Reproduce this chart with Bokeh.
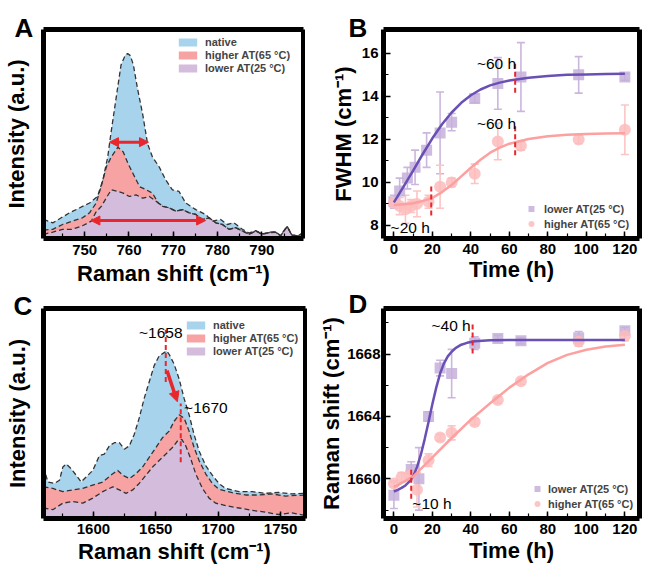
from bokeh.plotting import figure
from bokeh.layouts import row, column
from bokeh.models import (ColumnDataSource, Legend, LegendItem, Arrow, NormalHead,
                          Whisker, TeeHead, SingleIntervalTicker, FixedTicker, Range1d)
from bokeh.embed import file_html
from bokeh.resources import INLINE
from bokeh.core.properties import value

FONT = "Liberation Sans"

# ---------------- Panel A : Raman spectra 740-800 cm-1 ----------------
a_native_x = [740.7, 742.8, 744.7, 746.6, 748.8, 751.1, 752.9, 754.1, 755.2, 755.9, 757.1, 758.2,
              759.2, 759.7, 760.3, 761.0, 761.9, 763.1, 764.2, 765.3, 766.8, 768.3, 769.8, 771.3,
              772.8, 775.1, 777.3, 778.8, 780.7, 782.2, 783.7, 785.6, 787.1, 788.6, 790.1, 791.6,
              793.1, 794.2, 795.7, 796.8, 798.3, 799.4]
a_native_y = [9.1, 7.5, 9.9, 12.3, 14.6, 17.0, 20.1, 28.0, 39.0, 50.0, 67.3, 83.0,
              87.9, 88.5, 87.5, 83.0, 72.0, 59.4, 45.3, 39.0, 34.3, 28.0, 23.3, 22.5,
              17.0, 13.8, 11.5, 8.3, 9.1, 6.7, 7.5, 4.4, 2.6, 3.8, 2.2, 3.0,
              3.2, 1.4, 5.9, 1.7, 1.4, 3.0]
a_high_x = [740.7, 742.8, 745.0, 747.2, 749.5, 751.1, 752.6, 753.7, 754.9, 756.0, 757.5, 758.7,
            759.8, 760.9, 762.4, 763.9, 765.3, 766.6, 767.6, 769.1, 770.6, 772.1, 773.6, 775.1,
            776.6, 778.1, 779.6, 781.1, 782.6, 784.1, 785.6, 787.1, 788.6, 790.1, 791.6, 793.1,
            794.2, 795.7, 796.8, 798.3, 799.4]
a_high_y = [4.0, 4.4, 6.7, 8.3, 9.9, 12.3, 17.0, 24.8, 34.3, 39.0, 43.7, 41.4,
            35.8, 31.1, 24.8, 23.3, 21.7, 17.0, 15.6, 14.6, 13.1, 13.8, 12.3, 11.5,
            9.1, 9.9, 7.5, 6.7, 4.4, 5.2, 3.6, 2.0, 3.6, 2.0, 2.8, 3.0,
            1.2, 5.7, 1.5, 1.2, 2.8]
a_low_x = [740.7, 742.8, 745.0, 747.2, 749.5, 751.5, 752.5, 753.8, 754.9, 756.0, 757.5, 758.7,
           760.1, 761.6, 763.1, 764.6, 766.1, 767.6, 769.1, 770.6, 772.1, 773.6, 775.1, 776.6,
           778.1, 779.6, 781.1, 782.6, 784.1, 785.6, 787.1, 788.6, 790.1, 791.6, 793.1, 794.2,
           795.7, 796.8, 798.3, 799.4]
a_low_y = [2.0, 3.0, 4.4, 4.4, 6.1, 8.3, 12.5, 15.5, 19.5, 23.3, 22.5, 21.7,
           20.1, 20.9, 19.3, 20.1, 17.8, 15.4, 14.6, 13.1, 13.8, 12.3, 11.5, 9.1,
           9.9, 7.5, 6.7, 4.4, 5.2, 3.6, 2.0, 3.6, 2.0, 2.8, 3.0, 1.2,
           5.7, 1.5, 1.2, 2.8]
# FWHM double arrows: x_start, x_end, y
a_arrow_x0 = [755.6, 751.4]
a_arrow_x1 = [764.4, 777.3]
a_arrow_y = [46.1, 8.6]

# ---------------- Panel C : Raman spectra amide I ----------------
c_native_x = [1560, 1563.5, 1568.8, 1572.8, 1575.5, 1578.2, 1582.2, 1586.2, 1590.2, 1594.2, 1599.5,
              1604.8, 1608.8, 1612.8, 1616.8, 1620.8, 1624.8, 1628.8, 1632.7, 1636.7, 1640.7,
              1644.7, 1648.7, 1652.7, 1656.7, 1658.7, 1660.7, 1664.7, 1668.7, 1672.7, 1676.7,
              1680.7, 1684.7, 1690.0, 1695.3, 1700.6, 1706.0, 1711.3, 1716.6, 1727.2, 1737.9,
              1748.6, 1759.2, 1769.9]
c_native_y = [24.5, 17.4, 16.7, 18.2, 24.5, 26.0, 23.7, 20.6, 17.4, 19.8, 22.9,
              29.9, 30.7, 34.6, 36.1, 36.1, 33.0, 34.6, 40.0, 47.8, 57.2,
              65.0, 72.8, 77.4, 79.0, 79.8, 78.2, 73.5, 66.5, 57.2, 49.4,
              40.0, 32.2, 25.2, 20.6, 16.7, 14.3, 13.6, 12.8, 12.8, 12.0,
              12.4, 11.7, 12.0]
c_high_x = [1560, 1567.5, 1575.5, 1583.5, 1591.5, 1599.5, 1607.5, 1615.5, 1619.5, 1623.5, 1628.8,
            1634.1, 1639.4, 1644.7, 1650.1, 1655.4, 1660.7, 1664.7, 1668.7, 1672.7, 1676.7,
            1680.7, 1684.7, 1690.0, 1695.3, 1700.6, 1711.3, 1721.9, 1732.6, 1743.2, 1753.9, 1769.9]
c_high_y = [15.1, 14.3, 12.8, 13.6, 14.3, 15.9, 17.4, 21.3, 22.9, 20.6, 19.0,
            21.3, 24.5, 29.1, 33.8, 38.5, 41.6, 46.3, 49.4, 47.8, 41.6,
            33.8, 27.6, 21.3, 16.7, 13.9, 12.3, 11.2, 11.2, 11.7, 10.7, 11.2]
c_low_x = [1560, 1567.5, 1575.5, 1583.5, 1591.5, 1599.5, 1607.5, 1615.5, 1620.8, 1626.2, 1631.5,
           1636.7, 1642.1, 1647.4, 1652.7, 1658.1, 1663.4, 1667.4, 1670.8, 1674.0, 1678.0,
           1682.0, 1687.4, 1692.7, 1698.0, 1706.0, 1716.6, 1727.2, 1737.9, 1748.6, 1759.2, 1769.9]
c_low_y = [5.0, 4.2, 7.3, 8.1, 7.3, 9.7, 12.8, 15.1, 13.6, 12.0, 13.6,
           16.7, 20.6, 24.5, 27.6, 30.7, 33.8, 36.9, 37.7, 34.6, 28.4,
           21.3, 14.3, 9.7, 7.3, 6.1, 5.0, 3.9, 3.0, 1.9, 2.7, 1.4]
c_peak_x = [1658, 1670]
c_peak_y0 = [65.0, 26.8]
c_peak_y1 = [89.9, 54.8]
c_shift_arrow = [1659.0, 70.4, 1667.3, 55.6]
c_note_text = ["~1658", "~1670"]
c_note_x = [1654.0, 1672.7]
c_note_y = [88.6, 52.8]
c_note_align = ["center", "left"]

# ---------------- Panel B : FWHM vs time ----------------
b_low_t = [0, 3, 7, 11, 17, 24, 30, 42, 54, 66, 96, 120]
b_low_f = [9.1, 9.6, 10.2, 10.7, 11.5, 12.3, 12.8, 13.9, 14.6, 14.9, 15.0, 14.9]
b_low_e = [0.3, 0.6, 0.5, 0.8, 0.8, 1.9, 0.4, 0.2, 1.2, 1.6, 0.85, 0.15]
b_high_t = [0, 3, 6, 9, 12, 18, 24, 30, 42, 54, 66, 96, 120]
b_high_f = [9.05, 8.9, 8.75, 8.9, 9.0, 9.1, 9.8, 10.0, 10.4, 11.9, 11.7, 12.0, 12.45]
b_high_e = [0.2, 0.4, 0.65, 0.3, 0.6, 0.3, 1.0, 0.2, 0.45, 0.85, 0.2, 0.2, 1.15]
b_fit_t = [0, 5, 10, 15, 20, 25, 30, 35, 40, 45, 50, 55, 60, 70, 80, 90, 100, 110, 120]
b_fit_low = [9.07, 9.80, 10.55, 11.32, 12.05, 12.70, 13.25, 13.70, 14.05, 14.32, 14.51, 14.64,
             14.74, 14.87, 14.95, 15.0, 15.02, 15.04, 15.05]
b_fit_high = [8.95, 8.98, 9.03, 9.13, 9.28, 9.55, 9.88, 10.28, 10.68, 11.05, 11.38, 11.62,
              11.80, 12.02, 12.15, 12.21, 12.25, 12.27, 12.28]
b_mark_t = [63, 63, 19.4]
b_mark_y0 = [14.17, 11.26, 8.46]
b_mark_y1 = [15.54, 12.63, 9.81]
b_note_text = ["~60 h", "~60 h", "~20 h"]
b_note_t = [63.5, 63.5, -1.7]
b_note_y = [15.54, 12.74, 7.89]
b_note_align = ["right", "right", "left"]

# ---------------- Panel D : Raman shift vs time ----------------
d_low_t = [0, 9, 13, 18, 24, 30, 42, 54, 66, 96, 120]
d_low_s = [1658.95, 1660.6, 1660.0, 1664.0, 1667.1, 1666.75, 1668.7, 1669.0, 1668.85, 1669.05, 1669.5]
d_low_e = [0.85, 0.5, 2.0, 0.3, 0.5, 1.55, 0.4, 0.2, 0.2, 0.4, 0.2]
d_high_t = [0, 4, 8, 12, 18, 24, 30, 42, 54, 66, 96, 120]
d_high_s = [1659.7, 1660.1, 1660.2, 1659.3, 1661.2, 1662.65, 1662.95, 1663.65, 1665.05, 1666.25,
            1668.8, 1669.15]
d_high_e = [0.2, 0.3, 0.3, 1.1, 0.4, 0.2, 0.45, 0.2, 0.2, 0.2, 0.3, 0.3]
d_fit_low_t = [0, 2, 4, 6, 8, 10, 12, 14, 16, 18, 20, 22, 24, 26, 28, 30, 32, 35, 38, 42, 50, 60,
               80, 100, 120]
d_fit_low = [1659.19, 1659.30, 1659.42, 1659.58, 1659.82, 1660.15, 1660.75, 1661.55, 1662.55,
             1663.65, 1664.8, 1665.85, 1666.75, 1667.4, 1667.85, 1668.15, 1668.38, 1668.6,
             1668.72, 1668.82, 1668.88, 1668.9, 1668.9, 1668.9, 1668.9]
d_fit_high_t = [0, 10, 20, 30, 40, 50, 60, 70, 80, 90, 100, 110, 120]
d_fit_high = [1659.47, 1660.15, 1661.38, 1662.62, 1663.8, 1664.85, 1665.85, 1666.7, 1667.43,
              1667.95, 1668.28, 1668.48, 1668.6]
d_mark_t = [9.0, 40.9]
d_mark_y0 = [1658.73, 1668.04]
d_mark_y1 = [1660.74, 1669.95]
d_note_text = ["~40 h", "~10 h"]
d_note_t = [39.9, 9.6]
d_note_y = [1669.84, 1658.41]
d_note_align = ["right", "left"]

legend_spectra = ["native", "higher AT(65 °C)", "lower AT(25 °C)"]
legend_time = ["lower AT(25 °C)", "higher AT(65 °C)"]

C_BLUE = "#a8d3ec"
C_PINK = "#f8a3a3"
C_PURP = "#d4bcdc"
C_DASH = "#333333"
C_RED = "#e8262b"
C_SQ = "#c6b0da"
C_CI = "#fdbcbc"
C_LINE_P = "#6a50b4"
C_LINE_R = "#fca0a0"


def make_fig(w, h, xr, yr, mbl, mbr, mbt, mbb):
    p = figure(width=w, height=h, x_range=Range1d(xr[0], xr[1]), y_range=Range1d(yr[0], yr[1]),
               output_backend="svg", toolbar_location=None, tools="")
    p.min_border_left = mbl
    p.min_border_right = mbr
    p.min_border_top = mbt
    p.min_border_bottom = mbb
    p.outline_line_color = None
    p.xgrid.visible = False
    p.ygrid.visible = False
    p.background_fill_color = "white"
    p.border_fill_color = "white"
    for ax in (p.xaxis[0], p.yaxis[0]):
        ax.axis_line_color = None
        ax.major_tick_in = 7
        ax.major_tick_out = 0
        ax.minor_tick_in = 5
        ax.minor_tick_out = 0
        ax.major_tick_line_width = 1.5
        ax.minor_tick_line_width = 1.2
        ax.major_tick_line_color = "black"
        ax.minor_tick_line_color = "black"
        ax.major_label_text_font = FONT
        ax.major_label_text_font_style = "bold"
        ax.major_label_text_font_size = "15px"
        ax.major_label_text_color = "black"
        ax.axis_label_text_font = FONT
        ax.axis_label_text_font_style = "bold"
        ax.axis_label_text_font_size = "22px"
        ax.axis_label_text_color = "black"
    return p


def frame_border(p):
    # thick black frame along the four range limits (drawn last, on top)
    x0, x1 = p.x_range.start, p.x_range.end
    y0, y1 = p.y_range.start, p.y_range.end
    p.segment(x0=[x0, x0, x0, x1], y0=[y0, y1, y0, y0], x1=[x1, x1, x0, x1], y1=[y0, y1, y1, y1],
              line_color="black", line_width=5, level="overlay")


def panel_letter(p, letter, offset, standoff):
    t = p.title
    t.text = letter
    t.align = "left"
    t.vertical_align = "bottom"
    t.offset = offset
    t.standoff = standoff
    t.text_font = FONT
    t.text_font_size = "26px"
    t.text_font_style = "bold"
    t.text_color = "black"


def spectra_panel(p, xs, ys, colors, labels, vx, vy):
    rs = []
    for x, y, c in zip(xs, ys, colors):
        rs.append(p.varea(x=x, y1=[0] * len(x), y2=y, fill_color=c, fill_alpha=1.0))
    for x, y in zip(xs, ys):
        p.line(x=x, y=y, line_color=C_DASH, line_width=1.3, line_dash="5 3")
    items = [LegendItem(label=lab, renderers=[r]) for r, lab in zip(rs, labels)]
    leg = Legend(items=items, location=(vx, vy), orientation="vertical")
    leg.padding = 0
    leg.margin = 0
    leg.spacing = 1
    leg.glyph_width = 23
    leg.glyph_height = 10
    leg.label_height = 12
    leg.label_standoff = 6
    leg.label_text_font = FONT
    leg.label_text_font_style = "bold"
    leg.label_text_font_size = "11px"
    leg.border_line_color = None
    leg.background_fill_alpha = 0
    p.add_layout(leg)


def time_panel(p, lt, lv, le, ht, hv, he, flt, flv, fht, fhv, vx, vy, standoff):
    src_l = ColumnDataSource(dict(t=lt, v=lv, lo=[a - b for a, b in zip(lv, le)],
                                  hi=[a + b for a, b in zip(lv, le)]))
    src_h = ColumnDataSource(dict(t=ht, v=hv, lo=[a - b for a, b in zip(hv, he)],
                                  hi=[a + b for a, b in zip(hv, he)]))
    for src, c in ((src_l, "#cbb6de"), (src_h, "#fcc4c4")):
        p.add_layout(Whisker(source=src, base="t", upper="hi", lower="lo", dimension="height",
                             line_color=c, line_width=1.6,
                             upper_head=TeeHead(size=8, line_color=c, line_width=1.6),
                             lower_head=TeeHead(size=8, line_color=c, line_width=1.6)))
    r_l = p.scatter(x="t", y="v", source=src_l, marker="square", size=11, fill_color=C_SQ,
                    fill_alpha=0.85, line_color=None)
    r_h = p.scatter(x="t", y="v", source=src_h, marker="circle", size=12, fill_color=C_CI,
                    fill_alpha=0.85, line_color=None)
    p.line(x=flt, y=flv, line_color=C_LINE_P, line_width=2.5)
    p.line(x=fht, y=fhv, line_color=C_LINE_R, line_width=2.5)
    leg = Legend(items=[LegendItem(label=legend_time[0], renderers=[r_l]),
                        LegendItem(label=legend_time[1], renderers=[r_h])],
                 location=(vx, vy), orientation="vertical")
    leg.padding = 0
    leg.margin = 0
    leg.spacing = 0
    leg.glyph_width = 20
    leg.glyph_height = 15
    leg.label_height = 15
    leg.label_standoff = standoff
    leg.label_text_font = FONT
    leg.label_text_font_style = "bold"
    leg.label_text_font_size = "11px"
    leg.border_line_color = None
    leg.background_fill_alpha = 0
    p.add_layout(leg)


def notes(p, xs, ys, texts, aligns):
    src = ColumnDataSource(dict(x=xs, y=ys, t=texts, a=aligns))
    p.text(x="x", y="y", text="t", text_align="a", source=src, text_font=value(FONT),
           text_font_size=value("15.5px"), text_baseline="alphabetic", text_color="black")


# ---------- A ----------
pA = make_fig(305, 288, (740.7, 799.4), (0, 100), 42, 2, 29, 48)
pA.xaxis.ticker = SingleIntervalTicker(interval=10, num_minor_ticks=2)
pA.yaxis.ticker = FixedTicker(ticks=[], minor_ticks=[])
pA.xaxis.axis_label = "Raman shift (cm⁻¹)"
pA.yaxis.axis_label = "Intensity (a.u.)"
pA.xaxis.major_label_standoff = 6
pA.xaxis.axis_label_standoff = 3
pA.yaxis.major_label_standoff = 0
pA.yaxis.axis_label_standoff = 15
spectra_panel(pA, [a_native_x, a_high_x, a_low_x], [a_native_y, a_high_y, a_low_y],
              [C_BLUE, C_PINK, C_PURP], legend_spectra, 133, 164)
arrA = ColumnDataSource(dict(x0=a_arrow_x0, x1=a_arrow_x1, y=a_arrow_y))
pA.add_layout(Arrow(source=arrA, x_start="x0", y_start="y", x_end="x1", y_end="y",
                    line_color=C_RED, line_width=3,
                    start=NormalHead(size=9, fill_color=C_RED, line_color=C_RED),
                    end=NormalHead(size=9, fill_color=C_RED, line_color=C_RED)))
frame_border(pA)
panel_letter(pA, "A", -29, -27)

# ---------- B ----------
pB = make_fig(338, 288, (-5.4, 127.6), (7.39, 17.11), 78, 4, 29, 48)
pB.xaxis.ticker = SingleIntervalTicker(interval=20, num_minor_ticks=2)
pB.yaxis.ticker = SingleIntervalTicker(interval=2, num_minor_ticks=2)
pB.xaxis.axis_label = "Time (h)"
pB.yaxis.axis_label = "FWHM (cm⁻¹)"
pB.xaxis.major_label_standoff = 5
pB.xaxis.axis_label_standoff = 0
pB.yaxis.major_label_standoff = 5
pB.yaxis.axis_label_standoff = 3
time_panel(pB, b_low_t, b_low_f, b_low_e, b_high_t, b_high_f, b_high_e,
           b_fit_t, b_fit_low, b_fit_t, b_fit_high, 138, 7, 3)
pB.segment(x0=b_mark_t, y0=b_mark_y0, x1=b_mark_t, y1=b_mark_y1, line_color=C_RED,
           line_width=2, line_dash="5 3")
notes(pB, b_note_t, b_note_y, b_note_text, b_note_align)
frame_border(pB)
panel_letter(pB, "B", -35, -27)

# ---------- C ----------
pC = make_fig(307, 278, (1560, 1770), (0, 100), 43, 2, 17, 48)
pC.xaxis.ticker = SingleIntervalTicker(interval=50, num_minor_ticks=2)
pC.yaxis.ticker = FixedTicker(ticks=[], minor_ticks=[])
pC.xaxis.axis_label = "Raman shift (cm⁻¹)"
pC.yaxis.axis_label = "Intensity (a.u.)"
pC.xaxis.major_label_standoff = 5
pC.xaxis.axis_label_standoff = 2
pC.yaxis.major_label_standoff = 0
pC.yaxis.axis_label_standoff = 14
spectra_panel(pC, [c_native_x, c_high_x, c_low_x], [c_native_y, c_high_y, c_low_y],
              [C_BLUE, C_PINK, C_PURP], legend_spectra, 141, 161)
pC.segment(x0=c_peak_x, y0=c_peak_y0, x1=c_peak_x, y1=c_peak_y1, line_color=C_RED,
           line_width=2, line_dash="5 3")
pC.add_layout(Arrow(x_start=c_shift_arrow[0], y_start=c_shift_arrow[1],
                    x_end=c_shift_arrow[2], y_end=c_shift_arrow[3],
                    line_color=C_RED, line_width=3.5,
                    end=NormalHead(size=10, fill_color=C_RED, line_color=C_RED)))
notes(pC, c_note_x, c_note_y, c_note_text, c_note_align)
frame_border(pC)
panel_letter(pC, "C", -30, -25)

# ---------- D ----------
pD = make_fig(336, 278, (-5.4, 127.6), (1657.46, 1670.92), 76, 4, 20, 48)
pD.xaxis.ticker = SingleIntervalTicker(interval=20, num_minor_ticks=2)
pD.yaxis.ticker = SingleIntervalTicker(interval=4, num_minor_ticks=2)
pD.xaxis.axis_label = "Time (h)"
pD.yaxis.axis_label = "Raman shift (cm⁻¹)"
pD.xaxis.major_label_standoff = 5
pD.xaxis.axis_label_standoff = 1
pD.yaxis.major_label_standoff = 3
pD.yaxis.axis_label_standoff = 0
time_panel(pD, d_low_t, d_low_s, d_low_e, d_high_t, d_high_s, d_high_e,
           d_fit_low_t, d_fit_low, d_fit_high_t, d_fit_high, 144, 7, 1)
pD.segment(x0=d_mark_t, y0=d_mark_y0, x1=d_mark_t, y1=d_mark_y1, line_color=C_RED,
           line_width=2, line_dash="5 3")
notes(pD, d_note_t, d_note_y, d_note_text, d_note_align)
frame_border(pD)
panel_letter(pD, "D", -35, -21)

layout = column(row(pA, pB), row(pC, pD))
open("out.html", "w").write(file_html(layout, INLINE))
